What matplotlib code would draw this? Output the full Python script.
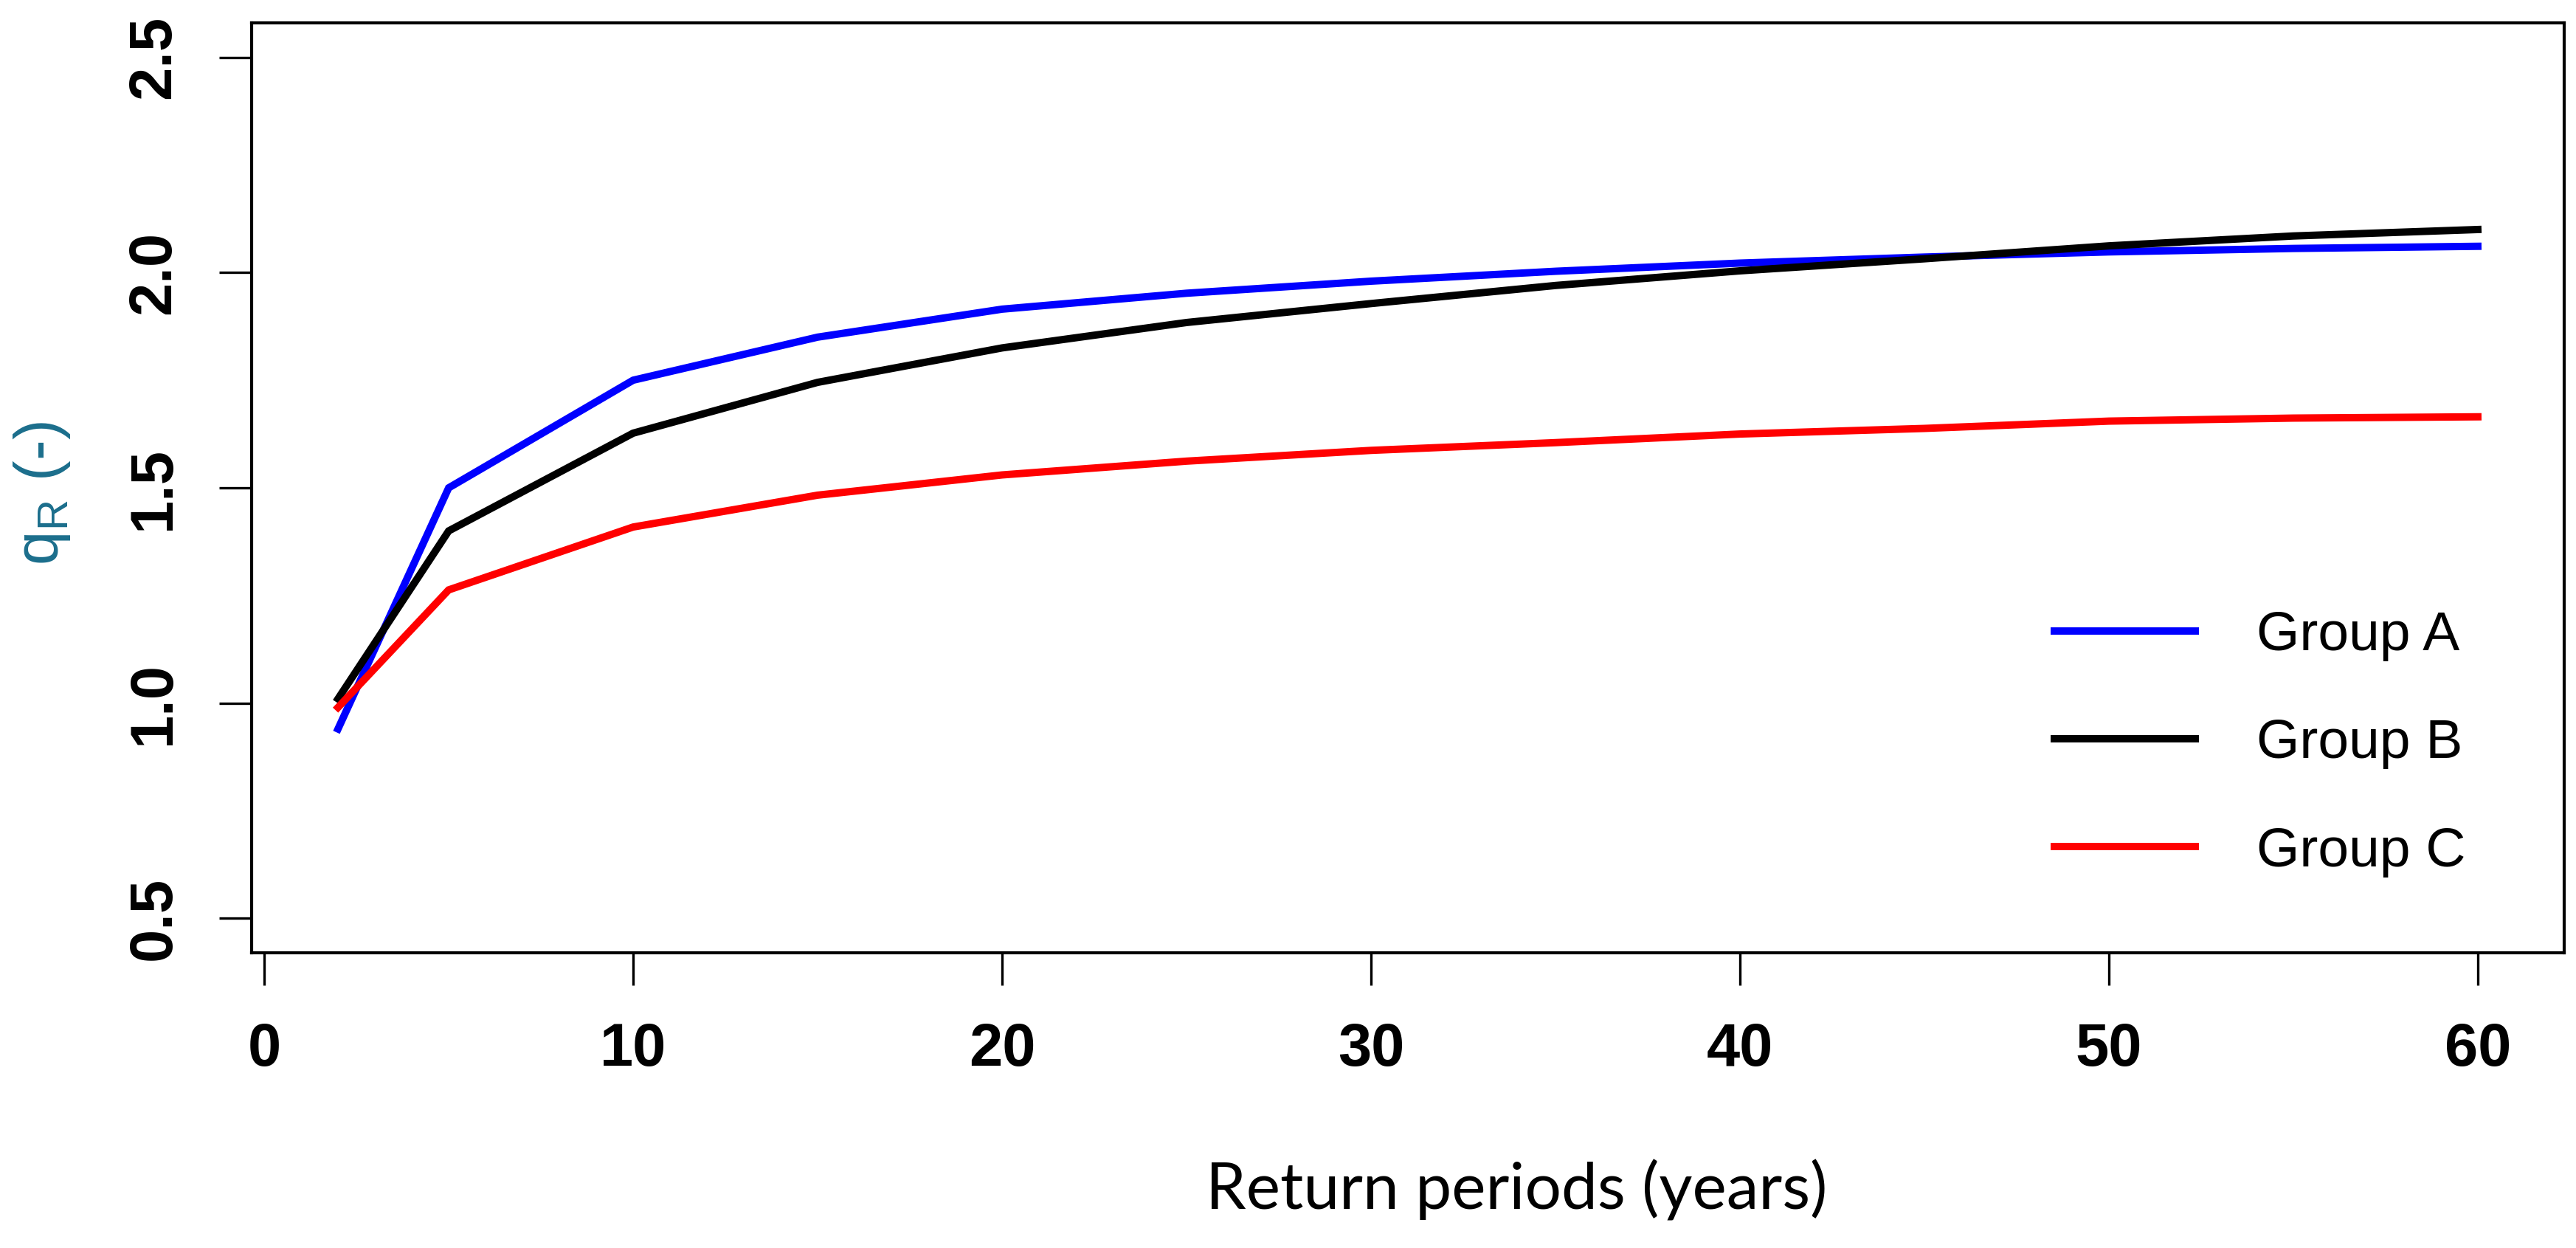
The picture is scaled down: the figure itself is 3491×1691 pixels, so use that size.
import matplotlib
matplotlib.use('Agg')
import matplotlib.pyplot as plt

# return periods (years)
periods = [2, 5, 10, 15, 20, 25, 30, 35, 40, 45, 50, 55, 60]

group_a = [0.94, 1.50, 1.75, 1.85, 1.915, 1.952, 1.98, 2.003, 2.022, 2.036, 2.048, 2.056, 2.061]
group_b = [1.01, 1.40, 1.627, 1.745, 1.825, 1.884, 1.928, 1.97, 2.004, 2.032, 2.062, 2.085, 2.10]
group_c = [0.99, 1.263, 1.409, 1.483, 1.53, 1.562, 1.587, 1.605, 1.625, 1.638, 1.655, 1.662, 1.665]

labels = ['Group A', 'Group B', 'Group C']
colors = ['#0000ff', '#000000', '#ff0000']

x_ticks = [0, 10, 20, 30, 40, 50, 60]
y_ticks = [0.5, 1.0, 1.5, 2.0, 2.5]

plt.rcParams['font.family'] = ['Liberation Sans', 'DejaVu Sans']

fig = plt.figure(figsize=(3491 / 300, 1691 / 300), dpi=300)
ax = fig.add_axes([0.0977, 0.2365, 0.8977, 0.7452])

for ys, lab, col in zip([group_a, group_b, group_c], labels, colors):
    ax.plot(periods, ys, color=col, lw=2.4, label=lab, solid_joinstyle='miter')

ax.set_xlim(-0.34, 62.34)
ax.set_ylim(0.42, 2.58)
ax.set_xticks(x_ticks)
ax.set_yticks(y_ticks)
ax.set_yticklabels([f'{v:.1f}' for v in y_ticks], rotation=90, va='center')

ax.tick_params(axis='both', length=10.5, width=0.8, pad=12, labelsize=19.5)
for lab in ax.get_xticklabels() + ax.get_yticklabels():
    lab.set_fontweight('bold')
for sp in ax.spines.values():
    sp.set_linewidth(1.0)

ax.set_xlabel('Return periods (years)', fontsize=21, family='Lato')
ax.xaxis.set_label_coords(0.547, -0.222)
ax.set_ylabel(r'q$_\mathregular{R}$ (-)', fontsize=20, color='#1b6e8c')
ax.yaxis.set_label_coords(-0.0775, 0.494)

ax.legend(loc='upper left', bbox_to_anchor=(0.77, 0.392), frameon=False,
          fontsize=18, handlelength=2.55, handletextpad=1.1, labelspacing=1.03,
          borderaxespad=0)

fig.savefig('out.png', dpi=300)
